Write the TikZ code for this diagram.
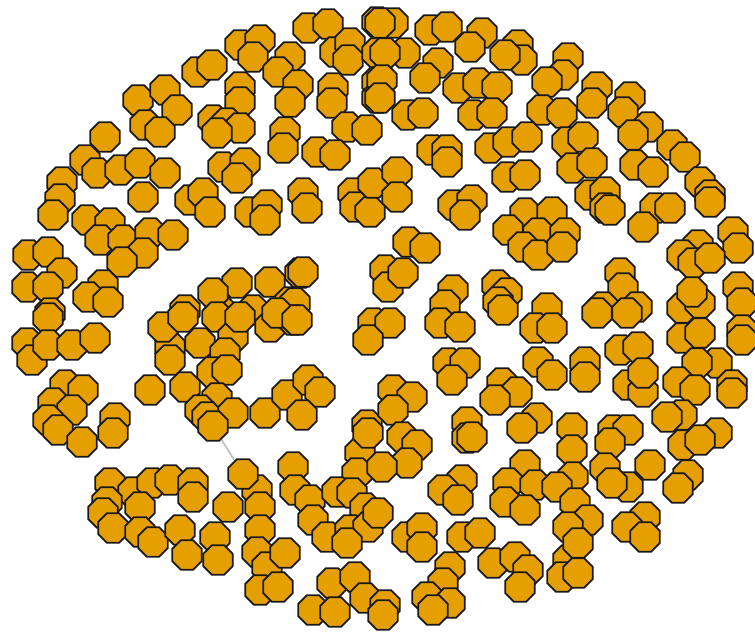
\documentclass[tikz,border=0pt]{standalone}
\usepackage{xcolor}
\usepackage{tikz}
\usetikzlibrary{shapes.geometric, backgrounds}
\definecolor{nodeorange}{HTML}{E69F00}

\begin{document}
\begin{tikzpicture}[x=0.03cm, y=-0.03cm,
    octa/.style={regular polygon, regular polygon sides=8, draw=black!90,
      fill=nodeorange, line width=1.5pt, minimum size=0.96cm, inner sep=0pt},
    link/.style={draw=gray!55, line width=1.3pt}]
  \useasboundingbox (0,0) rectangle (755,632);

  % ── Top band ──────────────────────────────────────────────────────────────
  \foreach \px/\py [count=\i] in {308/28, 328/24, 377/22, 240/45, 260/40, 253/57,
      290/57, 278/72, 335/52, 350/43, 348/60, 377/53, 197/72, 212/65, 240/87,
      240/102, 298/85, 290/102, 333/88, 332/103, 377/82, 377/98, 393/23, 380/23,
      430/30, 447/27, 482/33, 470/47, 518/45, 522/60, 505/55, 568/58, 563/75,
      547/82, 597/87, 592/103, 630/97, 623/112, 648/127, 633/135, 672/145,
      685/157, 700/182, 710/195, 405/53, 385/53, 438/63, 425/78, 458/88, 478/83,
      497/87, 382/80, 380/98, 407/115, 423/113, 473/115, 492/113, 542/110,
      562/113} {
    \node[octa] (top\i) at (\px,\py) {};
  }

  % ── Left arc ──────────────────────────────────────────────────────────────
  \foreach \px/\py [count=\i] in {138/100, 165/90, 177/110, 145/125, 160/132,
      213/120, 227/123, 240/128, 217/133, 285/132, 283/148, 347/127, 367/130,
      317/152, 335/155, 105/137, 85/160, 97/173, 120/170, 140/163, 165/173,
      143/197, 62/182, 60/199, 53/215, 223/167, 245/163, 237/178, 190/200,
      203/193, 210/212, 250/212, 267/205, 265/220, 303/193, 307/208, 353/193,
      355/207, 370/212, 373/183, 87/220, 110/223, 100/240, 123/240, 150/233,
      173/235, 143/253, 122/262, 28/255, 48/252, 62/273, 27/287, 48/287, 103/285,
      88/297, 108/302, 50/313, 185/310, 220/310, 237/283, 213/293, 270/282,
      300/273, 290/302, 253/310, 303/272, 295/303, 385/270, 388/287, 403/273} {
    \node[octa] (left\i) at (\px,\py) {};
  }

  % ── Right upper part ──────────────────────────────────────────────────────
  \foreach \px/\py [count=\i] in {432/150, 447/150, 447/162, 490/148, 508/142,
      527/137, 567/142, 583/137, 572/168, 592/163, 635/165, 653/172, 507/177,
      525/175, 397/172, 397/197, 453/205, 472/200, 465/215, 590/195, 605/192,
      605/208, 610/210, 655/208, 670/208, 710/202, 643/227, 525/213, 552/212,
      508/230, 538/233, 565/233, 523/247, 538/255, 562/247, 733/232, 738/248,
      698/245, 682/255, 693/263, 710/258, 408/242, 425/248, 453/290, 445/305,
      497/285, 507/293, 498/302, 547/308, 620/273, 623/288, 603/307, 637/307,
      682/308, 700/303, 692/292, 738/287, 742/303} {
    \node[octa] (rup\i) at (\px,\py) {};
  }

  % ── Lower left part ───────────────────────────────────────────────────────
  \foreach \px/\py [count=\i] in {48/318, 27/343, 32/360, 48/345, 72/345, 95/338,
      65/385, 83/390, 53/403, 72/410, 48/420, 58/430, 82/442, 115/418, 113/433,
      150/390, 185/387, 170/347, 170/360, 163/327, 183/317, 200/343, 217/317,
      233/337, 225/353, 212/372, 227/370, 217/398, 200/410, 207/417, 233/413,
      240/317, 270/327, 293/320, 277/313, 265/413, 287/395, 308/380, 320/392,
      302/415, 297/320, 373/323, 390/323, 368/340, 367/425, 360/453, 357/473,
      368/433} {
    \node[octa] (llow\i) at (\px,\py) {};
  }

  % ── Lower centre ──────────────────────────────────────────────────────────
  \foreach \px/\py [count=\i] in {257/490, 228/507, 260/507, 260/530, 257/552,
      267/567, 260/590, 278/587, 285/553, 293/467, 295/490, 110/483, 133/492,
      152/483, 170/480, 193/483, 193/497, 107/502, 140/507, 103/513, 113/528,
      140/532, 153/542, 180/530, 187/555, 215/537, 218/560, 310/500, 337/492,
      352/493, 365/508, 313/520, 327/537, 350/530, 368/527, 347/543, 332/583,
      355/577, 313/610, 335/612, 365/598, 385/605, 383/615} {
    \node[octa] (clow\i) at (\px,\py) {};
  }

  % ── Right lower part ──────────────────────────────────────────────────────
  \foreach \px/\py [count=\i] in {440/323, 460/327, 535/328, 552/328, 503/310,
      597/313, 627/313, 682/338, 700/333, 742/330, 742/340, 717/363, 697/363,
      448/363, 465/363, 452/380, 538/362, 552/375, 585/362, 585/377, 620/350,
      638/347, 628/385, 643/392, 643/373, 678/382, 695/390, 732/385, 732/393,
      393/390, 412/397, 393/410, 502/383, 517/392, 495/400, 537/418, 522/428,
      467/422, 467/438, 472/437, 572/428, 572/450, 613/430, 628/430, 610/443,
      682/415, 667/417, 683/445, 717/433, 700/440, 402/437, 417/445, 407/463,
      382/467, 525/465, 508/483, 535/485, 505/502, 525/510, 573/477, 557/487,
      575/503, 588/520, 568/527, 605/468, 628/487, 612/483, 650/465, 688/475,
      678/488, 645/517, 627/527, 645/537, 462/480, 443/490, 458/500, 378/513,
      407/537, 422/528, 422/547, 462/537, 480/533, 493/563, 515/557, 528/570,
      520/587, 568/560, 562/577, 578/573, 578/543, 450/567, 443/583, 427/597,
      450/603, 433/610} {
    \node[octa] (rlow\i) at (\px,\py) {};
  }

  % ── The one visible link ─────────────────────────────────────────────────
  \node[octa] (hub)  at (213,426) {};
  \node[octa] (leaf) at (243,474) {};
  \begin{pgfonlayer}{background}
    \draw[link] (hub) -- (leaf);
  \end{pgfonlayer}
\end{tikzpicture}
\end{document}
